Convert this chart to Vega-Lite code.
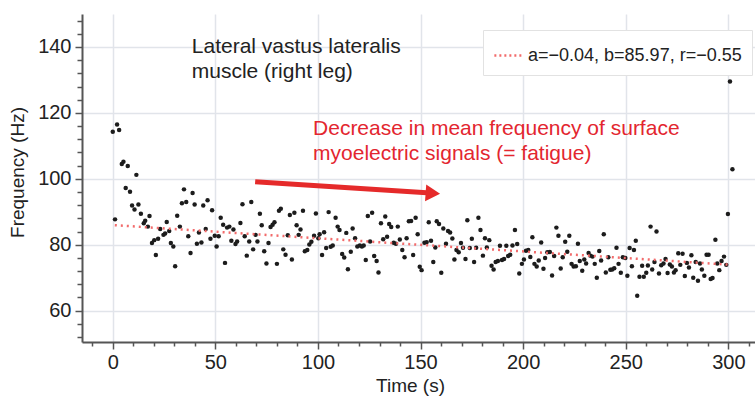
{
  "$schema": "https://vega.github.io/schema/vega-lite/v6.json",
  "width": 673,
  "height": 328,
  "autosize": {"type": "none"},
  "padding": {"left": 82, "top": 14, "right": 0, "bottom": 60},
  "background": "white",
  "config": {"view": {"stroke": null}, "font": "Liberation Sans"},
  "datasets": {
    "pts": [
      {"time":0,"freq":114.3},{"time":1.1,"freq":87.7},{"time":2.1,"freq":116.5},{"time":3.1,"freq":114.8},{"time":4.4,"freq":104.5},{"time":5.2,"freq":105.2},{"time":6.3,"freq":97.2},{"time":7.3,"freq":103.9},{"time":8.4,"freq":96.1},{"time":9.4,"freq":91.9},
      {"time":10.6,"freq":90.7},{"time":11.5,"freq":101.2},{"time":12.5,"freq":92.2},{"time":13.7,"freq":89.4},{"time":15.1,"freq":86.5},{"time":15.8,"freq":87.3},{"time":17.1,"freq":85.5},{"time":17.9,"freq":88.7},{"time":19.1,"freq":80.5},{"time":20.2,"freq":81.4},
      {"time":21,"freq":76.9},{"time":22.1,"freq":81.8},{"time":23.1,"freq":84.8},{"time":24.7,"freq":83},{"time":25.5,"freq":83.4},{"time":26.3,"freq":86.9},{"time":27.5,"freq":84.2},{"time":28.3,"freq":80.5},{"time":29.5,"freq":79.5},{"time":30.4,"freq":73.5},
      {"time":31.4,"freq":88.8},{"time":32.7,"freq":85.5},{"time":33.7,"freq":92.6},{"time":34.7,"freq":96.8},{"time":35.8,"freq":93},{"time":36.8,"freq":82.6},{"time":37.9,"freq":77.5},{"time":38.9,"freq":95.7},{"time":39.9,"freq":92.2},{"time":41,"freq":80.3},
      {"time":42,"freq":83.7},{"time":43.2,"freq":80.7},{"time":44.1,"freq":91.9},{"time":45.3,"freq":84.8},{"time":46.2,"freq":93.5},{"time":47.6,"freq":81.8},{"time":48.4,"freq":90.5},{"time":49.7,"freq":82.7},{"time":50.6,"freq":79.5},{"time":51.6,"freq":82.6},
      {"time":52.6,"freq":88.2},{"time":53.8,"freq":86.1},{"time":54.7,"freq":74.5},{"time":55.7,"freq":85.2},{"time":56.8,"freq":85.5},{"time":57.8,"freq":81.2},{"time":58.8,"freq":84.6},{"time":59.8,"freq":80.2},{"time":60.6,"freq":81},{"time":62.2,"freq":86.6},
      {"time":63.2,"freq":92.3},{"time":64.3,"freq":82.6},{"time":65.3,"freq":76.7},{"time":66.5,"freq":81},{"time":67.5,"freq":93},{"time":68.4,"freq":78.6},{"time":69.6,"freq":83},{"time":70.5,"freq":81},{"time":71.7,"freq":89.4},{"time":72.6,"freq":85.9},
      {"time":73.8,"freq":78},{"time":74.9,"freq":74.3},{"time":75.9,"freq":80.5},{"time":76.9,"freq":85.4},{"time":77.9,"freq":86.1},{"time":78.8,"freq":86.8},{"time":80,"freq":74.2},{"time":81,"freq":90.3},{"time":81.9,"freq":90.9},{"time":83.1,"freq":78.6},
      {"time":84.2,"freq":77},{"time":85.3,"freq":82.9},{"time":86.3,"freq":89},{"time":87.3,"freq":75.5},{"time":88.5,"freq":89.7},{"time":89.6,"freq":85.9},{"time":90.6,"freq":83},{"time":91.5,"freq":84.6},{"time":92.7,"freq":90.3},{"time":93.6,"freq":78},
      {"time":94.8,"freq":78.4},{"time":95.8,"freq":80.1},{"time":96.8,"freq":80.9},{"time":98.1,"freq":82.7},{"time":99,"freq":89.5},{"time":100.2,"freq":82},{"time":100.8,"freq":83.2},{"time":102,"freq":76.9},{"time":103,"freq":83.8},{"time":104,"freq":79},
      {"time":105.2,"freq":89.9},{"time":106.2,"freq":79.4},{"time":107.2,"freq":79.8},{"time":108.6,"freq":88.2},{"time":109.6,"freq":85.5},{"time":110.5,"freq":84.5},{"time":111.8,"freq":77.2},{"time":112.8,"freq":76.1},{"time":113.8,"freq":83.6},{"time":114.6,"freq":72.6},
      {"time":116,"freq":77.9},{"time":116.9,"freq":84.9},{"time":118.1,"freq":82},{"time":119.2,"freq":79.5},{"time":120.4,"freq":79.8},{"time":121.4,"freq":79.5},{"time":122.3,"freq":79.8},{"time":123.3,"freq":75.4},{"time":124.3,"freq":88.7},{"time":125.4,"freq":81},
      {"time":126.4,"freq":89.7},{"time":127.4,"freq":76.6},{"time":128.6,"freq":75.1},{"time":129.5,"freq":71.6},{"time":130.7,"freq":86.5},{"time":131.8,"freq":81.7},{"time":132.8,"freq":88.6},{"time":133.7,"freq":82.4},{"time":134.7,"freq":86.3},{"time":135.7,"freq":85.4},
      {"time":136.9,"freq":80.6},{"time":138,"freq":80.3},{"time":138.9,"freq":85.5},{"time":139.9,"freq":81.6},{"time":141.1,"freq":78.4},{"time":142.2,"freq":76.2},{"time":143.2,"freq":82},{"time":144.3,"freq":87.1},{"time":145.4,"freq":87.2},{"time":146.4,"freq":76.9},
      {"time":147.6,"freq":88.2},{"time":148.6,"freq":83.2},{"time":149.6,"freq":73.3},{"time":150.5,"freq":72.3},{"time":151.9,"freq":80.6},{"time":153,"freq":80.8},{"time":154,"freq":86.8},{"time":155.1,"freq":81.2},{"time":156.2,"freq":74.8},{"time":157.2,"freq":79.2},
      {"time":157.9,"freq":87.1},{"time":159,"freq":86.3},{"time":160.1,"freq":71.5},{"time":161.1,"freq":84.9},{"time":162.4,"freq":80.3},{"time":163.4,"freq":84.2},{"time":164.4,"freq":83.7},{"time":165.5,"freq":81.9},{"time":166.5,"freq":75.5},{"time":167.5,"freq":78.4},
      {"time":168.6,"freq":77.7},{"time":169.7,"freq":80.5},{"time":170.7,"freq":79.1},{"time":171.9,"freq":75.7},{"time":172.8,"freq":87.4},{"time":174,"freq":79},{"time":175,"freq":81.8},{"time":176.1,"freq":74.8},{"time":177.1,"freq":79.1},{"time":178.2,"freq":88.2},
      {"time":179.2,"freq":84.5},{"time":180.4,"freq":76.7},{"time":181.4,"freq":82},{"time":182.3,"freq":79.2},{"time":183.5,"freq":81.4},{"time":184.6,"freq":73.6},{"time":185.6,"freq":72.5},{"time":186.6,"freq":74.8},{"time":187.7,"freq":75.1},{"time":188.7,"freq":79.7},
      {"time":189.7,"freq":75.4},{"time":190.7,"freq":75.7},{"time":191.8,"freq":79.7},{"time":192.7,"freq":76.6},{"time":193.7,"freq":77},{"time":194.8,"freq":79.8},{"time":196,"freq":84.5},{"time":197.1,"freq":80.2},{"time":198.1,"freq":71.3},{"time":199.4,"freq":74.2},
      {"time":200.4,"freq":75.5},{"time":201.4,"freq":78.2},{"time":202.5,"freq":78.4},{"time":203.5,"freq":76.3},{"time":204.5,"freq":82.3},{"time":205.5,"freq":74.2},{"time":206.6,"freq":73.4},{"time":207.6,"freq":75.2},{"time":208.8,"freq":80.7},{"time":209.9,"freq":72.7},
      {"time":210.7,"freq":76},{"time":211.8,"freq":77.7},{"time":213,"freq":77.8},{"time":214.1,"freq":70.7},{"time":215.1,"freq":76.6},{"time":216.2,"freq":85.2},{"time":217.2,"freq":82.7},{"time":218.3,"freq":72.8},{"time":219.3,"freq":76.2},{"time":220.5,"freq":80.9},
      {"time":221.5,"freq":77.9},{"time":222.5,"freq":82.7},{"time":223.6,"freq":74.2},{"time":224.6,"freq":73.4},{"time":225.7,"freq":73.5},{"time":226.7,"freq":80.3},{"time":227.6,"freq":75.1},{"time":228.8,"freq":72.1},{"time":229.8,"freq":75.5},{"time":230.7,"freq":74.3},
      {"time":231.9,"freq":77.5},{"time":232.8,"freq":76.7},{"time":233.8,"freq":76.4},{"time":234.9,"freq":74.2},{"time":235.9,"freq":70},{"time":237.1,"freq":78.1},{"time":238,"freq":75.2},{"time":239.3,"freq":83.2},{"time":240.3,"freq":71.6},{"time":241.5,"freq":76.2},
      {"time":242.5,"freq":72.4},{"time":243.4,"freq":72.5},{"time":244.4,"freq":72.9},{"time":245.5,"freq":79.1},{"time":246.5,"freq":74.2},{"time":247.6,"freq":71.5},{"time":248.6,"freq":76.2},{"time":249.8,"freq":76},{"time":250.8,"freq":70.6},{"time":251.9,"freq":79},
      {"time":253,"freq":73.5},{"time":254,"freq":78.4},{"time":254.9,"freq":81.2},{"time":255.6,"freq":64.5},{"time":256.7,"freq":70.3},{"time":258,"freq":73.6},{"time":258.8,"freq":70.3},{"time":260,"freq":71.5},{"time":260.8,"freq":73.7},{"time":262.1,"freq":85.5},
      {"time":262.9,"freq":72.5},{"time":264,"freq":74.8},{"time":265,"freq":84},{"time":266.2,"freq":71.3},{"time":267.3,"freq":73.8},{"time":268.4,"freq":74.3},{"time":269.4,"freq":75.7},{"time":270.4,"freq":71.4},{"time":271.5,"freq":74},{"time":272.5,"freq":73.4},
      {"time":273.5,"freq":71.6},{"time":274.3,"freq":72.3},{"time":275.6,"freq":77.4},{"time":276.6,"freq":73.9},{"time":277.7,"freq":77.3},{"time":278.8,"freq":70.5},{"time":279.8,"freq":74.5},{"time":280.8,"freq":73.1},{"time":282,"freq":76.8},{"time":282.9,"freq":70},
      {"time":284.1,"freq":74.8},{"time":285.2,"freq":69.1},{"time":286.2,"freq":74.3},{"time":287.1,"freq":72.5},{"time":288.3,"freq":70.6},{"time":289.4,"freq":77},{"time":290.4,"freq":77},{"time":291.4,"freq":69.6},{"time":292.3,"freq":69.9},{"time":293.7,"freq":81.5},
      {"time":294.6,"freq":74.3},{"time":295.6,"freq":72.3},{"time":296.7,"freq":75.1},{"time":297.9,"freq":76.4},{"time":299,"freq":73.9},{"time":299.8,"freq":89.3},{"time":300.8,"freq":129.5},{"time":302,"freq":102.9}
    ],
    "fit": [
      {"time":1,"freq":85.93,"label":"a=−0.04, b=85.97, r=−0.55"},
      {"time":300,"freq":73.97,"label":"a=−0.04, b=85.97, r=−0.55"}
    ],
    "arrow": [{"time":69.4,"freq":99.1,"time2":153,"freq2":95.8}],
    "head": [{"time":156,"freq":95.6}],
    "notes": [
      {"time":38.5,"freq":140,"text":"Lateral vastus lateralis"},
      {"time":38.5,"freq":132.4,"text":"muscle (right leg)"}
    ],
    "rednotes": [
      {"time":97.6,"freq":115.2,"text":"Decrease in mean frequency of surface"},
      {"time":97.6,"freq":107.6,"text":"myoelectric signals (= fatigue)"}
    ]
  },
  "encoding": {
    "x": {
      "field": "time", "type": "quantitative",
      "scale": {"domain": [-15, 313], "nice": false, "zero": false},
      "axis": {
        "title": "Time (s)",
        "values": [-10,0,10,20,30,40,50,60,70,80,90,100,110,120,130,140,150,160,170,180,190,200,210,220,230,240,250,260,270,280,290,300,310],
        "labelExpr": "datum.value % 50 === 0 ? datum.label : ''",
        "labelOverlap": false, "labelFlush": false,
        "labelFontSize": 20, "labelColor": "#222", "labelPadding": 3,
        "tickSize": {"condition": {"test": "datum.value % 50 === 0", "value": 7}, "value": 4},
        "tickColor": "#555", "tickWidth": 1.5,
        "domainColor": "#555", "domainWidth": 2,
        "grid": true,
        "gridColor": "#e1e4ea", "gridWidth": 1.5,
        "gridOpacity": {"condition": {"test": "datum.value % 50 === 0", "value": 1}, "value": 0},
        "titleFontSize": 19, "titleFontWeight": "normal", "titleColor": "#222",
        "titleX": 328, "titleY": 43, "titleBaseline": "middle"
      }
    },
    "y": {
      "field": "freq", "type": "quantitative",
      "scale": {"domain": [50.5, 150], "nice": false, "zero": false},
      "axis": {
        "title": "Frequency (Hz)",
        "values": [52,56,60,64,68,72,76,80,84,88,92,96,100,104,108,112,116,120,124,128,132,136,140,144,148],
        "labelExpr": "datum.value % 20 === 0 ? datum.label : ''",
        "labelOverlap": false, "labelFlush": false,
        "labelFontSize": 20, "labelColor": "#222", "labelPadding": 4,
        "tickSize": {"condition": {"test": "datum.value % 20 === 0", "value": 7}, "value": 5},
        "tickColor": "#555", "tickWidth": 1.5,
        "domainColor": "#555", "domainWidth": 2,
        "grid": true,
        "gridColor": "#e1e4ea", "gridWidth": 1.5,
        "gridOpacity": {"condition": {"test": "datum.value % 20 === 0", "value": 1}, "value": 0},
        "titleFontSize": 19, "titleFontWeight": "normal", "titleColor": "#222",
        "titleX": -65, "titleY": 158, "titleBaseline": "middle", "titleAngle": -90
      }
    }
  },
  "layer": [
    {
      "data": {"name": "pts"},
      "mark": {"type": "point", "filled": true, "size": 20, "color": "#1c1c1c", "opacity": 1}
    },
    {
      "data": {"name": "fit"},
      "mark": {"type": "line", "strokeDash": [2, 4], "strokeWidth": 2.5},
      "encoding": {
        "color": {
          "field": "label", "type": "nominal",
          "scale": {"range": ["#f26b6b"]},
          "legend": {
            "orient": "none", "legendX": 401, "legendY": 16,
            "title": null,
            "labelFontSize": 18, "labelColor": "#222", "labelLimit": 400, "labelOffset": 4,
            "symbolType": "stroke", "symbolDash": [2, 3], "symbolStrokeWidth": 2.5, "symbolSize": 800,
            "strokeColor": "#e2e2e2", "fillColor": "white", "padding": 10, "cornerRadius": 0
          }
        }
      }
    },
    {
      "data": {"name": "arrow"},
      "mark": {"type": "rule", "color": "#e52a2a", "strokeWidth": 5},
      "encoding": {
        "x2": {"field": "time2"},
        "y2": {"field": "freq2"}
      }
    },
    {
      "data": {"name": "head"},
      "mark": {"type": "point", "shape": "triangle-right", "filled": true, "size": 280, "angle": 4, "color": "#e52a2a", "opacity": 1}
    },
    {
      "data": {"name": "notes"},
      "mark": {"type": "text", "align": "left", "baseline": "middle", "fontSize": 21, "color": "#222"},
      "encoding": {"text": {"field": "text"}}
    },
    {
      "data": {"name": "rednotes"},
      "mark": {"type": "text", "align": "left", "baseline": "middle", "fontSize": 21, "color": "#e3262f"},
      "encoding": {"text": {"field": "text"}}
    }
  ]
}
